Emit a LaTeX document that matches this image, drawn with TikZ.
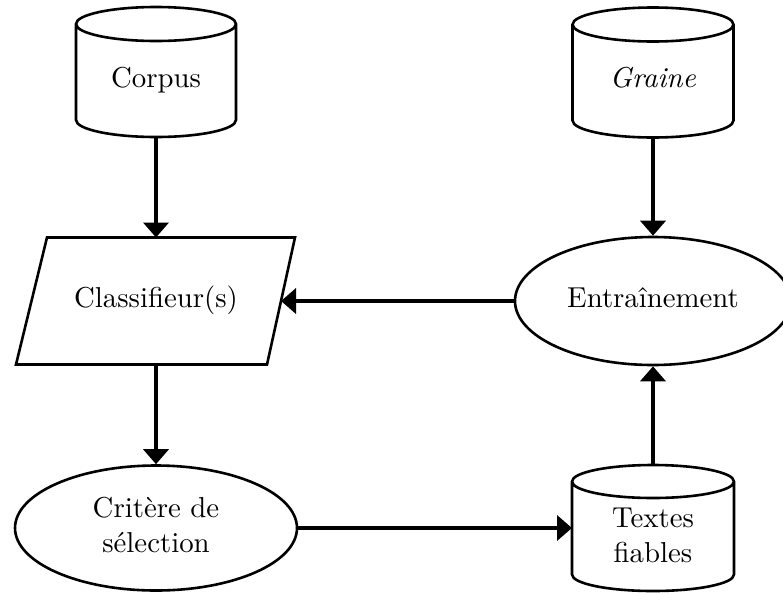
\documentclass[tikz,border=0pt]{standalone}
\usepackage{graphicx}
\usetikzlibrary{arrows.meta,shapes.geometric}
\newcommand{\bigtxt}[1]{\scalebox{2.88}{\begin{tabular}{@{}c@{}}#1\end{tabular}}}
\newcommand{\cylout}[3]{%
  \draw[outline] ([yshift=-#3]#1.north west) -- ([yshift=#3]#1.south west)
    arc[start angle=180,end angle=360,x radius=#2,y radius=#3]
    -- ([yshift=-#3]#1.north east)
    arc[start angle=0,end angle=360,x radius=#2,y radius=#3];}
\begin{document}
\begin{tikzpicture}[x=1pt,y=1pt,
  outline/.style={line width=2.6pt},
  arr/.style={line width=3.8pt,-{Triangle[length=15pt,width=25pt]}},
  cyl/.style={rectangle,inner sep=0pt,outer sep=0pt},
  ell/.style={ellipse,draw,outline,inner sep=0pt},
  para/.style={rectangle,inner sep=0pt,outer sep=0pt,minimum width=250pt,minimum height=127pt}
]
\useasboundingbox (0,0) rectangle (783,-592);
\fill[white] (0,0) rectangle (783,-592);

\node[cyl,minimum width=160pt,minimum height=130pt,
  label={[yshift=-9pt,name=corpust]center:\bigtxt{Corpus}}] (corpus) at (156,-72) {};
\cylout{corpus}{80pt}{17pt}

\node[cyl,minimum width=161pt,minimum height=130pt,
  label={[yshift=-8.5pt,name=grainet]center:\bigtxt{\textit{Graine}}}] (graine) at (653,-72.5) {};
\cylout{graine}{80.5pt}{17pt}

\node[para] (cls) at (156,-301) {\bigtxt{Classifieur(s)}};
\draw[outline] ([xshift=16pt]cls.north west) -- ([xshift=14pt]cls.north east)
  -- ([xshift=-14pt]cls.south east) -- ([xshift=-15pt]cls.south west) -- cycle;

\node[ell,minimum width=276pt,minimum height=128pt] (entr) at (653,-301) {\bigtxt{Entraînement}};

\node[ell,minimum width=282pt,minimum height=125pt] (crit) at (156,-528) {\bigtxt{Critère de\\sélection}};

\node[cyl,minimum width=162pt,minimum height=126pt,
  label={[yshift=-10pt,name=textest]center:\bigtxt{Textes\\fiables}}] (textes) at (653,-528) {};
\cylout{textes}{81pt}{16.5pt}

\draw[arr] (corpus.south) -- (cls.north);
\draw[arr] (graine.south) -- (entr.north);
\draw[arr] (entr.west) -- (cls.east);
\draw[arr] (cls.south) -- (crit.north);
\draw[arr] (crit.east) -- (textes.west);
\draw[arr] (textes.north) -- (entr.south);
\end{tikzpicture}
\end{document}
